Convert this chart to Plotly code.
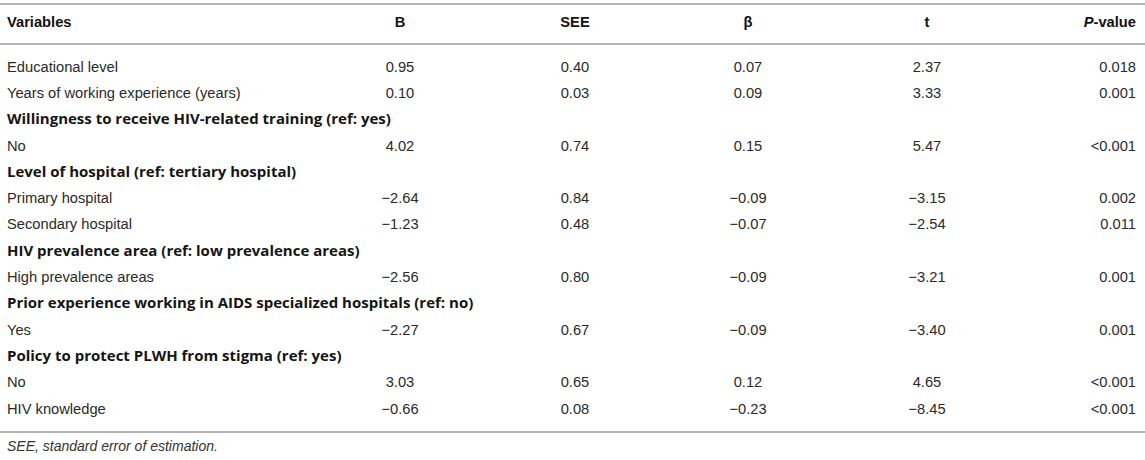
import plotly.graph_objects as go

# table content
variables = [
    "Educational level",
    "Years of working experience (years)",
    "Willingness to receive HIV-related training (ref: yes)",
    "No",
    "Level of hospital (ref: tertiary hospital)",
    "Primary hospital",
    "Secondary hospital",
    "HIV prevalence area (ref: low prevalence areas)",
    "High prevalence areas",
    "Prior experience working in AIDS specialized hospitals (ref: no)",
    "Yes",
    "Policy to protect PLWH from stigma (ref: yes)",
    "No",
    "HIV knowledge",
]
is_group = [False, False, True, False, True, False, False, True, False, True, False, True, False, False]
B = ["0.95", "0.10", "", "4.02", "", "\u22122.64", "\u22121.23", "", "\u22122.56", "", "\u22122.27", "", "3.03", "\u22120.66"]
SEE = ["0.40", "0.03", "", "0.74", "", "0.84", "0.48", "", "0.80", "", "0.67", "", "0.65", "0.08"]
beta = ["0.07", "0.09", "", "0.15", "", "\u22120.09", "\u22120.07", "", "\u22120.09", "", "\u22120.09", "", "0.12", "\u22120.23"]
t = ["2.37", "3.33", "", "5.47", "", "\u22123.15", "\u22122.54", "", "\u22123.21", "", "\u22123.40", "", "4.65", "\u22128.45"]
p_value = ["0.018", "0.001", "", "<0.001", "", "0.002", "0.011", "", "0.001", "", "0.001", "", "<0.001", "<0.001"]
headers = ["Variables", "B", "SEE", "\u03b2", "t", "<i>P</i>-value"]
footnote = "SEE, standard error of estimation."

W, H = 1145, 460
FONT = "Liberation Sans, Arial, sans-serif"
BOLD_FONT = "Open Sans, Liberation Sans, sans-serif"
TXT = "#2a2a2a"
LINE = "#b4b4b4"
FS = 14.7

row_y = [68 + 26.3 * i for i in range(len(variables))]
header_y = 23
col_x = [7, 400, 575, 748, 927, 1136]

fig = go.Figure()

# first column: plain rows and bold group rows
plain = [i for i, g in enumerate(is_group) if not g]
group = [i for i, g in enumerate(is_group) if g]
fig.add_trace(go.Scatter(
    x=[col_x[0]] * len(plain), y=[row_y[i] for i in plain], mode="text",
    text=[variables[i] for i in plain],
    textposition="middle right",
    textfont=dict(family=FONT, size=FS, color=TXT),
    hoverinfo="skip", cliponaxis=False,
))
fig.add_trace(go.Scatter(
    x=[col_x[0]] * len(group), y=[row_y[i] for i in group], mode="text",
    text=[f"<b>{variables[i]}</b>" for i in group],
    textposition="middle right",
    textfont=dict(family=BOLD_FONT, size=15, color="#151515"),
    hoverinfo="skip", cliponaxis=False,
))

# numeric columns (centred)
for xi, col in zip(col_x[1:5], [B, SEE, beta, t]):
    fig.add_trace(go.Scatter(
        x=[xi] * len(col), y=row_y, mode="text", text=col,
        textposition="middle center",
        textfont=dict(family=FONT, size=FS, color=TXT),
        hoverinfo="skip", cliponaxis=False,
    ))

# p-value column right aligned
fig.add_trace(go.Scatter(
    x=[col_x[5]] * len(p_value), y=row_y, mode="text", text=p_value,
    textposition="middle left",
    textfont=dict(family=FONT, size=FS, color=TXT),
    hoverinfo="skip", cliponaxis=False,
))

# header row
pos = ["middle right"] + ["middle center"] * 4 + ["middle left"]
fig.add_trace(go.Scatter(
    x=col_x, y=[header_y] * len(headers), mode="text",
    text=[f"<b>{h}</b>" for h in headers],
    textposition=pos,
    textfont=dict(family=FONT, size=FS, color="#111111"),
    hoverinfo="skip", cliponaxis=False,
))

# footnote
fig.add_trace(go.Scatter(
    x=[col_x[0]], y=[447], mode="text", text=[f"<i>{footnote}</i>"],
    textposition="middle right",
    textfont=dict(family=FONT, size=14, color="#333333"),
    hoverinfo="skip", cliponaxis=False,
))

for yl in [4, 44, 432]:
    fig.add_shape(type="line", x0=0, x1=W, y0=yl, y1=yl, xref="x", yref="y",
                  line=dict(color=LINE, width=2))

fig.update_layout(
    width=W, height=H,
    margin=dict(l=0, r=0, t=0, b=0),
    paper_bgcolor="white", plot_bgcolor="white",
    showlegend=False,
    xaxis=dict(range=[0, W], visible=False, fixedrange=True),
    yaxis=dict(range=[H, 0], visible=False, fixedrange=True),
)

fig.write_html("out.html", config={"displayModeBar": False},
               post_script="document.body.style.margin='0';document.body.style.overflow='hidden';")
